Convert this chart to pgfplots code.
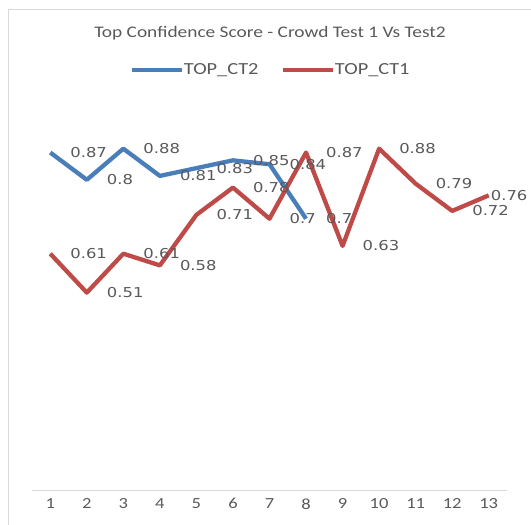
\documentclass[border=0pt]{standalone}
\usepackage{pgfplots}
\pgfplotsset{compat=1.18}
\usepackage{fontspec}
\setmainfont{Carlito}
\newfontfamily\labfont[FakeStretch=1.2]{DejaVu Sans}
\newfontfamily\titfont[FakeStretch=1.2]{Carlito}
\definecolor{xlblue}{HTML}{4A7EBB}
\definecolor{xlred}{HTML}{BE4B48}
\definecolor{txt}{HTML}{595959}
\definecolor{frame}{HTML}{D9D9D9}
\begin{document}
\begin{tikzpicture}
\begin{axis}[
  at={(32bp,34bp)}, anchor=south west,
  scale only axis, width=475bp, height=389bp,
  xmin=0.5, xmax=13.5, ymin=0, ymax=1,
  xtick={1,...,13}, ytick=\empty,
  /pgf/number format/assume math mode=true,
  axis x line=bottom, axis y line=none,
  axis line style={-, draw=frame, line width=1bp},
  major tick length=0pt,
  tick style={draw=none},
  xticklabel style={font=\titfont\fontsize{15.5}{15.5}\selectfont, text=txt, yshift=-4bp},
  clip=false,
  nodes near coords,
  point meta=explicit symbolic,
  every node near coord/.append style={anchor=west, xshift=18bp, inner sep=0pt,
    font=\labfont\fontsize{13.7}{14}\selectfont, text=txt},
  legend columns=2,
  legend style={draw=none, fill=none, at={(0.501,1.082)}, anchor=center,
    font=\titfont\fontsize{17}{17}\selectfont, text=txt,
    nodes={inner sep=0.5bp},
    /tikz/every even column/.append style={column sep=22bp}},
  legend image code/.code={\draw[#1, line width=3.5bp] (0bp,0bp) -- (50bp,0bp);},
]
\addplot[xlblue, line width=4.3bp, line join=round] coordinates {
  (1,0.87) [0.87]
  (2,0.80) [0.8]
  (3,0.88) [0.88]
  (4,0.81) [0.81]
  (5,0.83) [0.83]
  (6,0.85) [0.85]
  (7,0.84) [0.84]
  (8,0.70) [0.7]
};
\addlegendentry{TOP\_CT2}
\addplot[xlred, line width=4.3bp, line join=round] coordinates {
  (1,0.61) [0.61]
  (2,0.51) [0.51]
  (3,0.61) [0.61]
  (4,0.58) [0.58]
  (5,0.71) [0.71]
  (6,0.78) [0.78]
  (7,0.70) [0.7]
  (8,0.87) [0.87]
  (9,0.63) [0.63]
  (10,0.88) [0.88]
  (11,0.79) [0.79]
  (12,0.72) [0.72]
  (13,0.76) [\kern-18bp 0.76]
};
\addlegendentry{TOP\_CT1}
\end{axis}
\node[font=\titfont\fontsize{16.2}{16.2}\selectfont, text=txt] at (270bp,492bp) {Top Confidence Score - Crowd Test 1 Vs Test2};
\pgfresetboundingbox
\path[use as bounding box] (0,0) rectangle (531bp,525bp);
\draw[frame, line width=1bp] (8bp,-2bp) -- (8bp,515bp) -- (535bp,515bp);
\end{tikzpicture}
\end{document}
